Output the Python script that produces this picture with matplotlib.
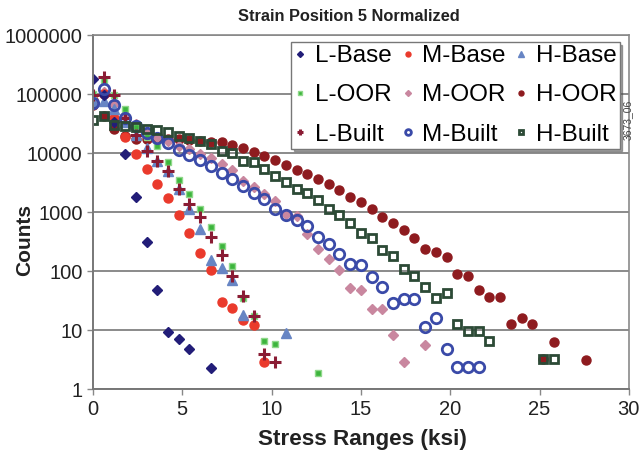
import matplotlib
matplotlib.use('agg')
import matplotlib.pyplot as plt
from matplotlib.ticker import FixedLocator, NullLocator

plt.rcParams['font.family'] = ['Liberation Sans', 'DejaVu Sans']

step = 0.6

# counts per stress-range bin (bin index -> x = 0.6 * k)
l_base_k = [0, 1, 2, 3, 4, 5, 6, 7, 8, 9, 11]
l_base = [180000, 95000, 34000, 9600, 1800, 310, 47, 9.4, 7.1, 4.8, 2.3]

m_base_k = list(range(0, 17))
m_base = [80000, 100000, 40000, 19000, 9600, 5400, 3000, 1700, 890, 450,
          200, 105, 30, 24, 15, 12, 2.9]

h_base_k = list(range(0, 15)) + [18]
h_base = [75000, 77000, 55000, 33000, 20000, 12000, 7400, 4900, 2440, 1140,
          521, 156, 113, 71, 18, 8.8]

l_oor_k = list(range(0, 18)) + [21]
l_oor = [100000, 170000, 95000, 56000, 28000, 19000, 13300, 7100, 3540, 2040,
         1110, 555, 263, 124, 35, 17.5, 6.6, 5.8, 1.88]

m_oor_k = list(range(0, 30)) + [31]
m_oor = [75000, 110000, 68000, 42000, 31000, 23000, 19000, 16000, 13000, 11700,
         9600, 8100, 6500, 5100, 3400, 2700, 2050, 1520, 915, 850,
         418, 238, 158, 103, 52, 48, 22.6, 22.6, 8.3, 2.9, 5.6]

h_oor_k = list(range(0, 44)) + [46]
h_oor = [65000, 43000, 26000, 19600, 17500, 17000, 17500, 17000, 17000, 16500,
         16300, 15600, 15200, 13800, 12000, 10500, 9000, 7700, 6250, 5200,
         4500, 3700, 2970, 2370, 1830, 1500, 1110, 835, 642, 494,
         366, 238, 208, 174, 90, 83, 47, 37, 37, 12.6,
         15.9, 12.6, 3.2, 6.2, 3.1]

l_built_k = list(range(0, 18))
l_built = [96000, 195000, 98000, 40000, 20000, 11000, 7400, 5000, 2440, 1350,
           834, 381, 190, 81, 38, 17.4, 3.9, 2.9]

m_built_k = list(range(0, 37))
m_built = [71000, 120000, 66000, 39000, 29200, 22000, 17800, 14800, 11400, 9240,
           7500, 6000, 4560, 3600, 2750, 2100, 1650, 1110, 880, 731,
           577, 380, 282, 198, 134, 128, 79, 54, 29, 33,
           34, 11.4, 16, 4.7, 2.4, 2.4, 2.4]

h_built_k = list(range(0, 38)) + [42, 43]
h_built = [36900, 42200, 30000, 29200, 27400, 25700, 24600, 22500, 19200, 17800,
           16200, 14200, 10900, 10000, 7400, 6930, 5340, 4010, 3250, 2500,
           2110, 1600, 1140, 880, 640, 446, 357, 225, 183, 110,
           84, 54, 35, 42, 12.9, 9.7, 9.7, 6.5, 3.2, 3.2]

y_ticks = [1, 10, 100, 1000, 10000, 100000, 1000000]
x_ticks = [0, 5, 10, 15, 20, 25, 30]


def xs(ks):
    return [k * step for k in ks]


fig = plt.figure(figsize=(6.41, 4.61), dpi=100)
ax = fig.add_axes([0.145, 0.156, 0.836, 0.768])

h = {}
h['H-OOR'], = ax.plot(xs(h_oor_k), h_oor, 'o', ms=6.5, color='#8e1b1f', mec='#8e1b1f', label='H-OOR')
h['M-OOR'], = ax.plot(xs(m_oor_k), m_oor, 'D', ms=5.5, color='#c9879f', mec='#c9879f', label='M-OOR')
h['M-Base'], = ax.plot(xs(m_base_k), m_base, 'o', ms=6.5, color='#ea3a2c', mec='#ea3a2c', label='M-Base')
h['H-Base'], = ax.plot(xs(h_base_k), h_base, '^', ms=7.5, color='#6785c4', mec='#6785c4', label='H-Base')
h['L-OOR'], = ax.plot(xs(l_oor_k), l_oor, 's', ms=4.5, color='#3cb43c', mec='#8fd88a', mew=1, label='L-OOR')
h['L-Base'], = ax.plot(xs(l_base_k), l_base, 'D', ms=5.5, color='#221d78', mec='#221d78', label='L-Base')
h['L-Built'], = ax.plot(xs(l_built_k), l_built, '+', ms=8.5, mew=2.2, color='#8a1c34', label='L-Built')
h['M-Built'], = ax.plot(xs(m_built_k), m_built, 'o', ms=7.5, mfc='none', mec='#3a4aa8', mew=2, label='M-Built')
h['H-Built'], = ax.plot(xs(h_built_k), h_built, 's', ms=5.8, mfc='none', mec='#2c4a36', mew=2, label='H-Built')

ax.set_yscale('log')
ax.set_ylim(1, 1000000)
ax.set_xlim(0, 30)
ax.yaxis.set_major_locator(FixedLocator(y_ticks))
ax.yaxis.set_minor_locator(NullLocator())
ax.set_yticklabels([str(t) for t in y_ticks])
ax.set_xticks(x_ticks)
ax.set_xticklabels([str(t) for t in x_ticks])
ax.tick_params(labelsize=14.5, colors='#222222', length=4, width=1)
ax.tick_params(axis='both', color='#888888')
ax.grid(axis='y', color='#8a8a8a', linewidth=1.4)
ax.set_axisbelow(True)
for s in ['left', 'bottom']:
    ax.spines[s].set_color('#777777')
    ax.spines[s].set_linewidth(1.4)
for s in ['top', 'right']:
    ax.spines[s].set_color('#8a8a8a')
    ax.spines[s].set_linewidth(1.2)

order = ['L-Base', 'L-OOR', 'L-Built', 'M-Base', 'M-OOR', 'M-Built', 'H-Base', 'H-OOR', 'H-Built']
leg = ax.legend([h[n] for n in order], order, ncol=3, loc='upper right',
                bbox_to_anchor=(0.983, 0.98), borderaxespad=0, fontsize=17.5,
                markerscale=0.55, handlelength=0.5, handletextpad=0.35,
                columnspacing=0.4, labelspacing=0.71, borderpad=0.12,
                fancybox=False, shadow=True, framealpha=1, edgecolor='#777777')
leg.set_zorder(5)

fig.text(0.545, 0.965, 'Strain Position 5 Normalized', ha='center', va='center',
         fontsize=11.8, fontweight='bold', color='#222222')
fig.text(0.565, 0.046, 'Stress Ranges (ksi)', ha='center', va='center',
         fontsize=16.2, fontweight='bold', color='#222222')
fig.text(0.039, 0.479, 'Counts', ha='center', va='center', rotation=90,
         fontsize=15, fontweight='bold', color='#222222')
fig.text(0.98, 0.74, '3673_06', ha='center', va='center', rotation=90,
         fontsize=7.5, color='#444444', zorder=10)

fig.savefig('out.png', dpi=100)
